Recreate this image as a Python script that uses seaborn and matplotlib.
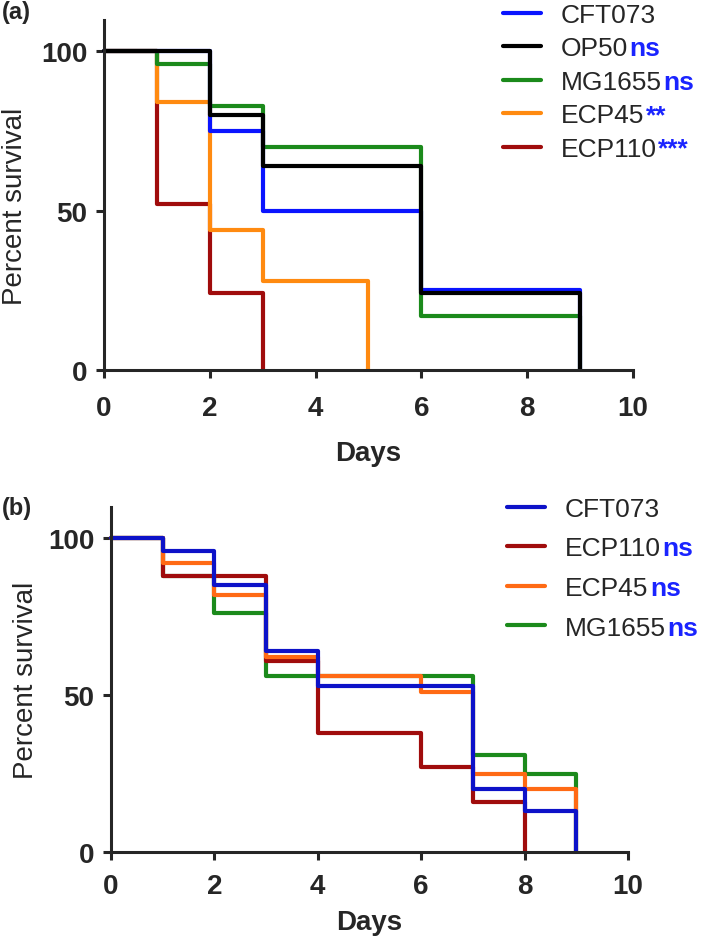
import numpy as np
import pandas as pd
import matplotlib.pyplot as plt
import seaborn as sns
from matplotlib.lines import Line2D

# panel (a) - survival curves
a_cft073_days = [0, 2, 3, 6, 9]
a_cft073_surv = [100, 75, 50, 25, 0]
a_op50_days = [0, 2, 3, 6, 9]
a_op50_surv = [100, 80, 64, 24, 0]
a_mg1655_days = [0, 1, 2, 3, 6, 9]
a_mg1655_surv = [100, 96, 83, 70, 17, 0]
a_ecp45_days = [0, 1, 2, 3, 5]
a_ecp45_surv = [100, 84, 44, 28, 0]
a_ecp110_days = [0, 1, 2, 3]
a_ecp110_surv = [100, 52, 24, 0]

# panel (b) - survival curves
b_cft073_days = [0, 1, 2, 3, 4, 7, 8, 9]
b_cft073_surv = [100, 96, 85, 64, 53, 20, 13, 0]
b_ecp110_days = [0, 1, 3, 4, 6, 7, 8]
b_ecp110_surv = [100, 88, 61, 38, 27, 16, 0]
b_ecp45_days = [0, 1, 2, 3, 4, 6, 7, 8, 9]
b_ecp45_surv = [100, 92, 82, 62, 56, 51, 25, 20, 0]
b_mg1655_days = [0, 1, 2, 3, 7, 8, 9]
b_mg1655_surv = [100, 88, 76, 56, 31, 25, 0]

legend_a = ['CFT073', 'OP50', 'MG1655', 'ECP45', 'ECP110']
signif_a = ['', 'ns', 'ns', '**', '***']
legend_b = ['CFT073', 'ECP110', 'ECP45', 'MG1655']
signif_b = ['', 'ns', 'ns', 'ns']

x_ticks = [0, 2, 4, 6, 8, 10]
y_ticks = [0, 50, 100]


def long_df(series):
    rows = []
    for name, days, surv in series:
        for d, s in zip(days, surv):
            rows.append({'strain': name, 'day': d, 'survival': s})
    return pd.DataFrame(rows)


df_a = long_df([('CFT073', a_cft073_days, a_cft073_surv),
                ('OP50', a_op50_days, a_op50_surv),
                ('MG1655', a_mg1655_days, a_mg1655_surv),
                ('ECP45', a_ecp45_days, a_ecp45_surv),
                ('ECP110', a_ecp110_days, a_ecp110_surv)])
df_b = long_df([('CFT073', b_cft073_days, b_cft073_surv),
                ('ECP110', b_ecp110_days, b_ecp110_surv),
                ('ECP45', b_ecp45_days, b_ecp45_surv),
                ('MG1655', b_mg1655_days, b_mg1655_surv)])

pal_a = {'CFT073': '#0a14ff', 'OP50': '#000000', 'MG1655': '#1b8a1b',
         'ECP45': '#ff8a10', 'ECP110': '#a00c0c'}
pal_b = {'CFT073': '#0d12c8', 'ECP110': '#a00c0c', 'ECP45': '#ff6a14',
         'MG1655': '#1b8a1b'}
sig_color = '#1a24ff'

sns.set_style('ticks')
plt.rcParams['font.family'] = ['Liberation Sans', 'DejaVu Sans']
plt.rcParams['axes.linewidth'] = 2.2

fig = plt.figure(figsize=(7.09, 9.37), dpi=100)
ax_a = fig.add_axes([0.1467, 0.6041, 0.746, 0.374])
ax_b = fig.add_axes([0.1566, 0.0896, 0.729, 0.3686])


def style_axis(ax, df, pal, order, xpad, xlab_y, ylab_x, ylab_y):
    sns.lineplot(data=df, x='day', y='survival', hue='strain', hue_order=order,
                 palette=pal, drawstyle='steps-post', estimator=None, sort=False,
                 legend=False, linewidth=3, ax=ax, clip_on=False)
    ax.set_xlim(0, 10)
    ax.set_ylim(0, 110)
    ax.set_xticks(x_ticks)
    ax.set_yticks(y_ticks)
    sns.despine(ax=ax)
    ax.tick_params(width=2.2, length=6, labelsize=20)
    ax.tick_params(axis='x', pad=xpad)
    ax.tick_params(axis='y', pad=6)
    for lab in ax.get_xticklabels() + ax.get_yticklabels():
        lab.set_fontweight('bold')
    ax.set_xlabel('Days', fontsize=20, fontweight='bold')
    ax.set_ylabel('Percent survival', fontsize=20)
    ax.xaxis.set_label_coords(0.5, xlab_y)
    ax.yaxis.set_label_coords(ylab_x, ylab_y)


style_axis(ax_a, df_a, pal_a, ['ECP110', 'ECP45', 'MG1655', 'CFT073', 'OP50'],
           12, -0.2, -0.144, 0.47)
style_axis(ax_b, df_b, pal_b, ['MG1655', 'ECP110', 'ECP45', 'CFT073'],
           9, -0.165, -0.14, 0.5)


def add_legend(ax, names, pal, anchor, spacing):
    handles = [Line2D([], [], color=pal[n], linewidth=3) for n in names]
    leg = ax.legend(handles, names, loc='upper left', bbox_to_anchor=anchor,
                    bbox_transform=fig.transFigure, frameon=False, fontsize=19,
                    borderpad=0, borderaxespad=0, handlelength=1.45,
                    handletextpad=0.75, labelspacing=spacing)
    return leg


leg_a = add_legend(ax_a, legend_a, pal_a, (0.709, 0.996), 0.36)
leg_b = add_legend(ax_b, legend_b, pal_b, (0.715, 0.4687), 0.59)

fig.text(0.003, 0.999, '(a)', fontsize=17, fontweight='bold', va='top')
fig.text(0.003, 0.470, '(b)', fontsize=17, fontweight='bold', va='top')

fig.canvas.draw()
for ax, leg, sigs in [(ax_a, leg_a, signif_a), (ax_b, leg_b, signif_b)]:
    for t, s in zip(leg.get_texts(), sigs):
        if s:
            ax.annotate(s, xy=(1, 0), xycoords=t, xytext=(1, 0),
                        textcoords='offset points', ha='left', va='bottom',
                        color=sig_color, fontsize=19, fontweight='bold')

fig.savefig('out.png', dpi=100)
